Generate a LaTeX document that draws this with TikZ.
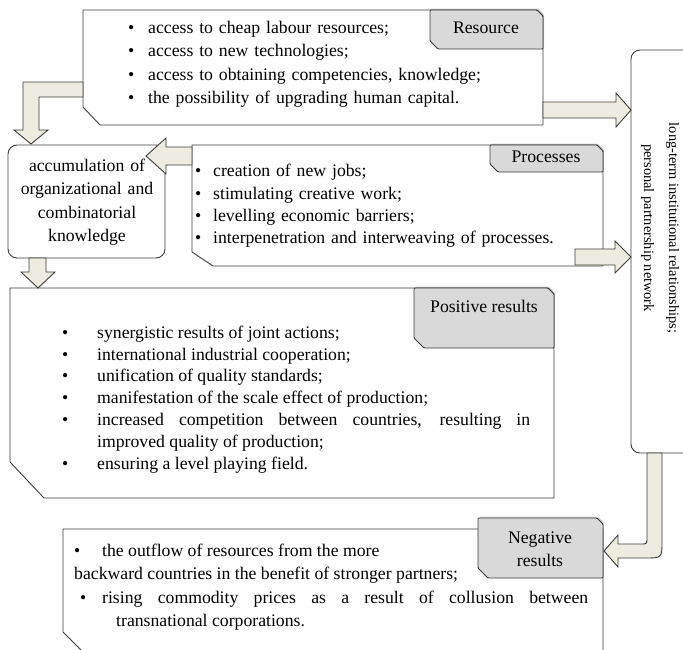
\documentclass[tikz,border=0pt]{standalone}
\usepackage{fontspec}
\setmainfont{Liberation Serif}
\usetikzlibrary{shadows}

\definecolor{tabgray}{RGB}{217,217,217}
\definecolor{arrowfill}{RGB}{238,236,225}
\definecolor{edge}{RGB}{60,60,60}

% bullet list used inside the boxes
\newenvironment{blist}[1]{%
  \begin{list}{\textbullet}{%
    \setlength{\leftmargin}{40pt}\setlength{\labelwidth}{7pt}%
    \setlength{\labelsep}{#1}\setlength{\itemsep}{0pt}%
    \setlength{\parsep}{0pt}\setlength{\topsep}{0pt}%
    \setlength{\partopsep}{0pt}\setlength{\itemindent}{0pt}}}%
  {\end{list}}

\begin{document}
\begin{tikzpicture}[x=1pt, y=-1pt,
    box/.style={draw=edge, fill=white, line width=.9pt},
    tab/.style={draw=edge, fill=tabgray, line width=.9pt, rounded corners=1pt,
        drop shadow={shadow xshift=1pt, shadow yshift=1.5pt, opacity=.35}},
    barrow/.style={draw=edge, fill=arrowfill, line width=.9pt},
    txt/.style={inner sep=0pt, font=\fontsize{17.7}{23.3}\selectfont, align=left},
]
    \useasboundingbox (0,0) rectangle (683,649);

    % boxes
    \draw[box] (83,10) -- (537,10) -- (543,16) -- (543,125) -- (100,125) -- (83,107) -- cycle;
    \draw[box] (192,145) -- (597,145) -- (603,151) -- (603,266) -- (213,266) -- (192,252) -- cycle;
    \draw[box, rounded corners=9pt] (8,145) rectangle (165,258);
    \draw[box] (10,288) -- (548,288) -- (554,294) -- (554,498) -- (44,498) -- (10,462) -- cycle;
    \draw[box] (63,529) -- (603,529) -- (603,670) -- (101,670) -- (63,632) -- cycle;
    \draw[box, rounded corners=9pt] (631,50) rectangle (710,453);

    % tabs
    \draw[tab] (430,10) -- (537,10) -- (543,16) -- (543,49) -- (438,49) -- (430,41) -- cycle;
    \draw[tab] (490,145) -- (597,145) -- (603,151) -- (603,172) -- (498,172) -- (490,164) -- cycle;
    \draw[tab] (414,288) -- (548,288) -- (554,294) -- (554,348) -- (424,348) -- (414,338) -- cycle;
    \draw[tab] (478,518) -- (597,518) -- (603,524) -- (603,578) -- (488,578) -- (478,568) -- cycle;

    % arrows
    \draw[barrow] (543,102) -- (616,102) -- (616,93) -- (631,110) -- (616,127) -- (616,118) -- (543,118) -- cycle;
    \draw[barrow] (575,249) -- (615,249) -- (615,241) -- (631,257) -- (615,273) -- (615,265) -- (575,265) -- cycle;
    \draw[barrow] (192,147) -- (166,147) -- (166,138) -- (146,156) -- (166,174) -- (166,165) -- (192,165) -- cycle;
    \draw[barrow] (83,82) -- (23,82) -- (23,130) -- (14,130) -- (31,144) -- (48,130) -- (39,130) -- (39,97) -- (83,97) -- cycle;
    \draw[barrow] (29,258) -- (29,272) -- (21,272) -- (38,288) -- (55,272) -- (46,272) -- (46,258) -- cycle;
    \draw[barrow] (647,453) -- (662,453) -- (662,541) .. controls (662,558) .. (645,558) -- (618,558)
        -- (618,567) -- (604,551) -- (618,535) -- (618,544) -- (641,544) .. controls (647,544) .. (647,538) -- cycle;

    % tab labels
    \node[txt] (reslbl) at (486,28) {Resource};
    \node[txt] (proclbl) at (546,157) {Processes};
    \node[txt] (poslbl) at (484,306) {Positive results};
    \node[txt, align=center] (neglbl) at (540,549) {Negative\\results};

    % box contents
    \node[txt, text width=420pt, anchor=north west] (restxt) at (108,10) {%
        \begin{blist}{14pt}
        \item access to cheap labour resources;
        \item access to new technologies;
        \item access to obtaining competencies, knowledge;
        \item the possibility of upgrading human capital.
        \end{blist}};
    \node[txt, font=\fontsize{17.7}{22.4}\selectfont, text width=390pt, anchor=north west] (proctxt) at (173,154) {%
        \begin{blist}{12pt}
        \item creation of new jobs;
        \item stimulating creative work;
        \item levelling economic barriers;
        \item interpenetration and interweaving of processes.
        \end{blist}};
    \node[txt, text width=150pt, align=center, anchor=north] (acctxt) at (87,159)
        {accumulation of\\organizational and\\combinatorial\\knowledge};
    \node[txt, font=\fontsize{17.7}{21.9}\selectfont, text width=473pt, align=justify, anchor=north west] (postxt) at (57,316) {%
        \begin{blist}{29pt}
        \item synergistic results of joint actions;
        \item international industrial cooperation;
        \item unification of quality standards;
        \item manifestation of the scale effect of production;
        \item increased competition between countries, resulting in\linebreak
            improved quality of production;
        \item ensuring a level playing field.
        \end{blist}};
    \node[txt, text width=514pt, align=justify, anchor=north west] (negtxt) at (74,544) {%
        \parindent=0pt
        \makebox[28pt][l]{\textbullet}the outflow of resources from the more\\
        backward countries in the benefit of stronger partners;\par
        \hangindent=42pt \hangafter=1
        \hspace*{6pt}\makebox[22pt][l]{\textbullet}rising commodity prices as a result of collusion between\linebreak
        transnational corporations.\par};
    \node[txt, font=\fontsize{14.4}{25}\selectfont, align=center, rotate=-90] (nettxt) at (660,228)
        {long-term institutional relationships;\\personal partnership network};
\end{tikzpicture}
\end{document}
